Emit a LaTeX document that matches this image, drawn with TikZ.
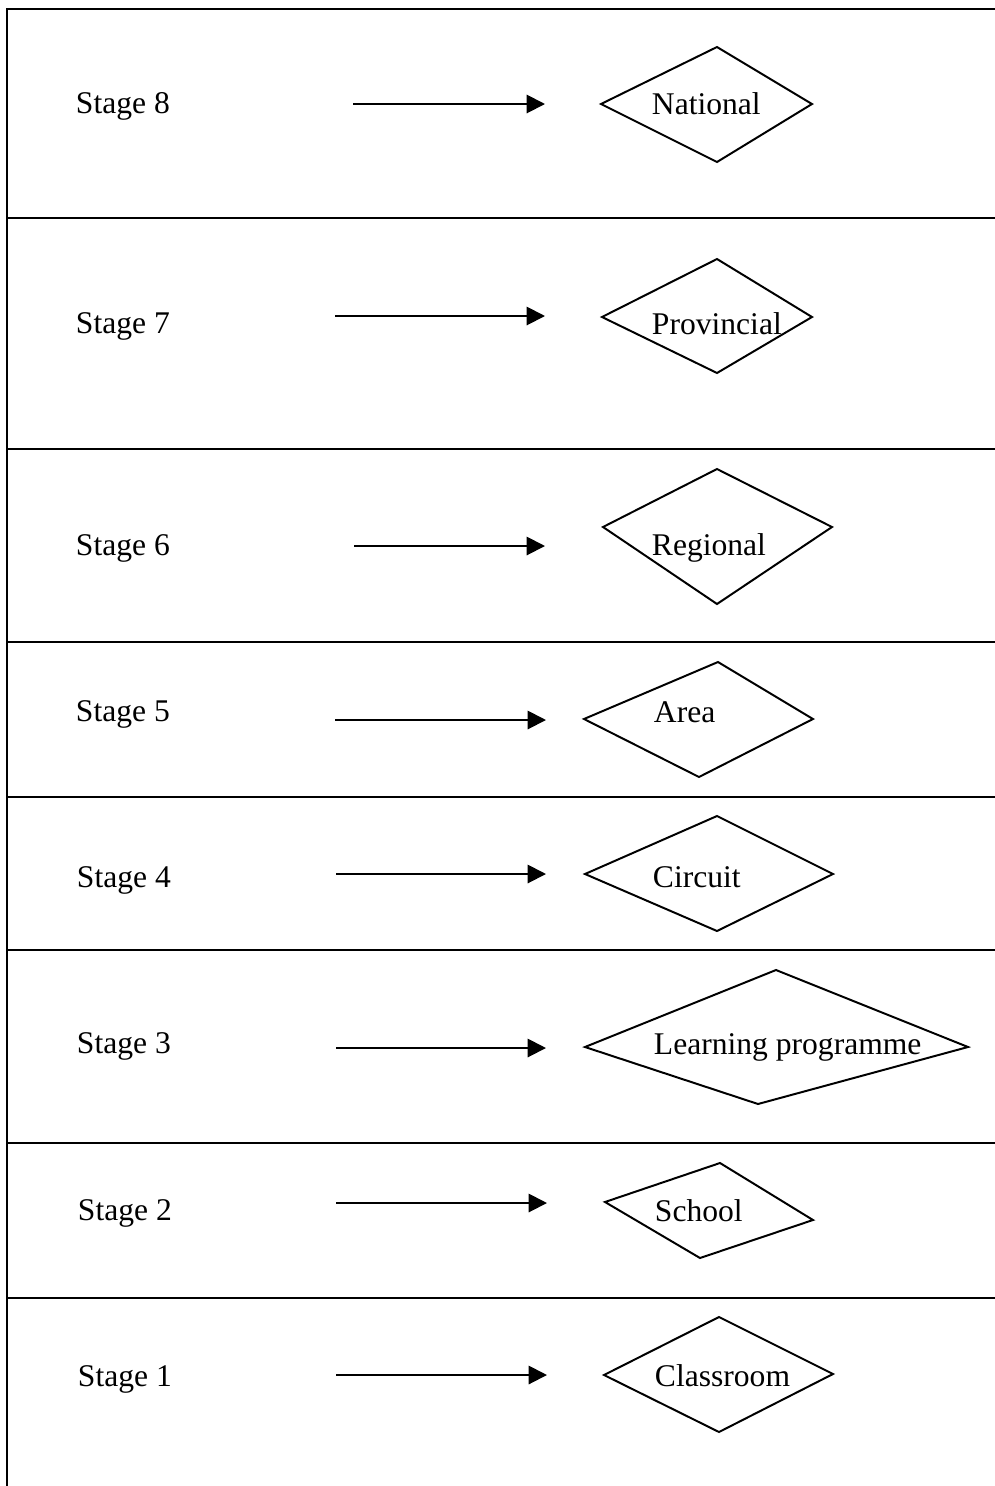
\documentclass[tikz,border=0pt]{standalone}
\usepackage{fontspec}
\setmainfont{Liberation Serif}
\usepackage{tikz}
\usetikzlibrary{arrows.meta}

\begin{document}
\begin{tikzpicture}[x=0.38pt, y=-0.38pt, line width=0.75pt,
  stagelabel/.style={anchor=base west, inner sep=0pt, font=\fontsize{12}{14}\selectfont},
  levellabel/.style={anchor=base west, inner sep=0pt, font=\fontsize{12}{14}\selectfont},
  arr/.style={-{Triangle[length=7pt, width=7pt]}}]
\useasboundingbox (0,0) rectangle (995,1486);

% frame and row lines
\draw (995,9) -- (7,9) -- (7,1486);
\draw (7,218) -- (995,218);
\draw (7,449) -- (995,449);
\draw (7,642) -- (995,642);
\draw (7,797) -- (995,797);
\draw (7,950) -- (995,950);
\draw (7,1143) -- (995,1143);
\draw (7,1298) -- (995,1298);

% stage labels
\node[stagelabel] (stage8) at (75,113) {Stage 8};
\node[stagelabel] (stage7) at (75,333) {Stage 7};
\node[stagelabel] (stage6) at (75,555) {Stage 6};
\node[stagelabel] (stage5) at (75,721) {Stage 5};
\node[stagelabel] (stage4) at (76,887) {Stage 4};
\node[stagelabel] (stage3) at (76,1053) {Stage 3};
\node[stagelabel] (stage2) at (77,1220) {Stage 2};
\node[stagelabel] (stage1) at (77,1386) {Stage 1};

% arrows
\coordinate (a8s) at (353,104);  \coordinate (a8e) at (545,104);
\coordinate (a7s) at (335,316);  \coordinate (a7e) at (545,316);
\coordinate (a6s) at (354,546);  \coordinate (a6e) at (545,546);
\coordinate (a5s) at (335,720);  \coordinate (a5e) at (546,720);
\coordinate (a4s) at (336,874);  \coordinate (a4e) at (546,874);
\coordinate (a3s) at (336,1048); \coordinate (a3e) at (546,1048);
\coordinate (a2s) at (336,1203); \coordinate (a2e) at (547,1203);
\coordinate (a1s) at (336,1375); \coordinate (a1e) at (547,1375);
\draw[arr] (a8s) -- (a8e);
\draw[arr] (a7s) -- (a7e);
\draw[arr] (a6s) -- (a6e);
\draw[arr] (a5s) -- (a5e);
\draw[arr] (a4s) -- (a4e);
\draw[arr] (a3s) -- (a3e);
\draw[arr] (a2s) -- (a2e);
\draw[arr] (a1s) -- (a1e);

% diamonds
\draw[line join=miter] (601,104) -- (717,47) -- (812,104) -- (717,162) -- cycle;
\draw[line join=miter] (602,317) -- (717,259) -- (812,317) -- (717,373) -- cycle;
\draw[line join=miter] (603,527) -- (717,469) -- (832,527) -- (717,604) -- cycle;
\draw[line join=miter] (584,719) -- (718,662) -- (813,719) -- (699,777) -- cycle;
\draw[line join=miter] (585,874) -- (717,816) -- (833,874) -- (717,931) -- cycle;
\draw[line join=miter] (585,1047) -- (776,970) -- (968,1047) -- (758,1104) -- cycle;
\draw[line join=miter] (605,1202) -- (720,1163) -- (813,1220) -- (700,1258) -- cycle;
\draw[line join=miter] (604,1375) -- (719,1317) -- (833,1374) -- (719,1432) -- cycle;

% level labels
\node[levellabel] (national) at (651,114) {National};
\node[levellabel] (provincial) at (651,334) {Provincial};
\node[levellabel] (regional) at (651,555) {Regional};
\node[levellabel] (area) at (653,722) {Area};
\node[levellabel] (circuit) at (652,887) {Circuit};
\node[levellabel] (learning) at (653,1054) {Learning programme};
\node[levellabel] (school) at (654,1221) {School};
\node[levellabel] (classroom) at (654,1386) {Classroom};
\end{tikzpicture}
\end{document}
